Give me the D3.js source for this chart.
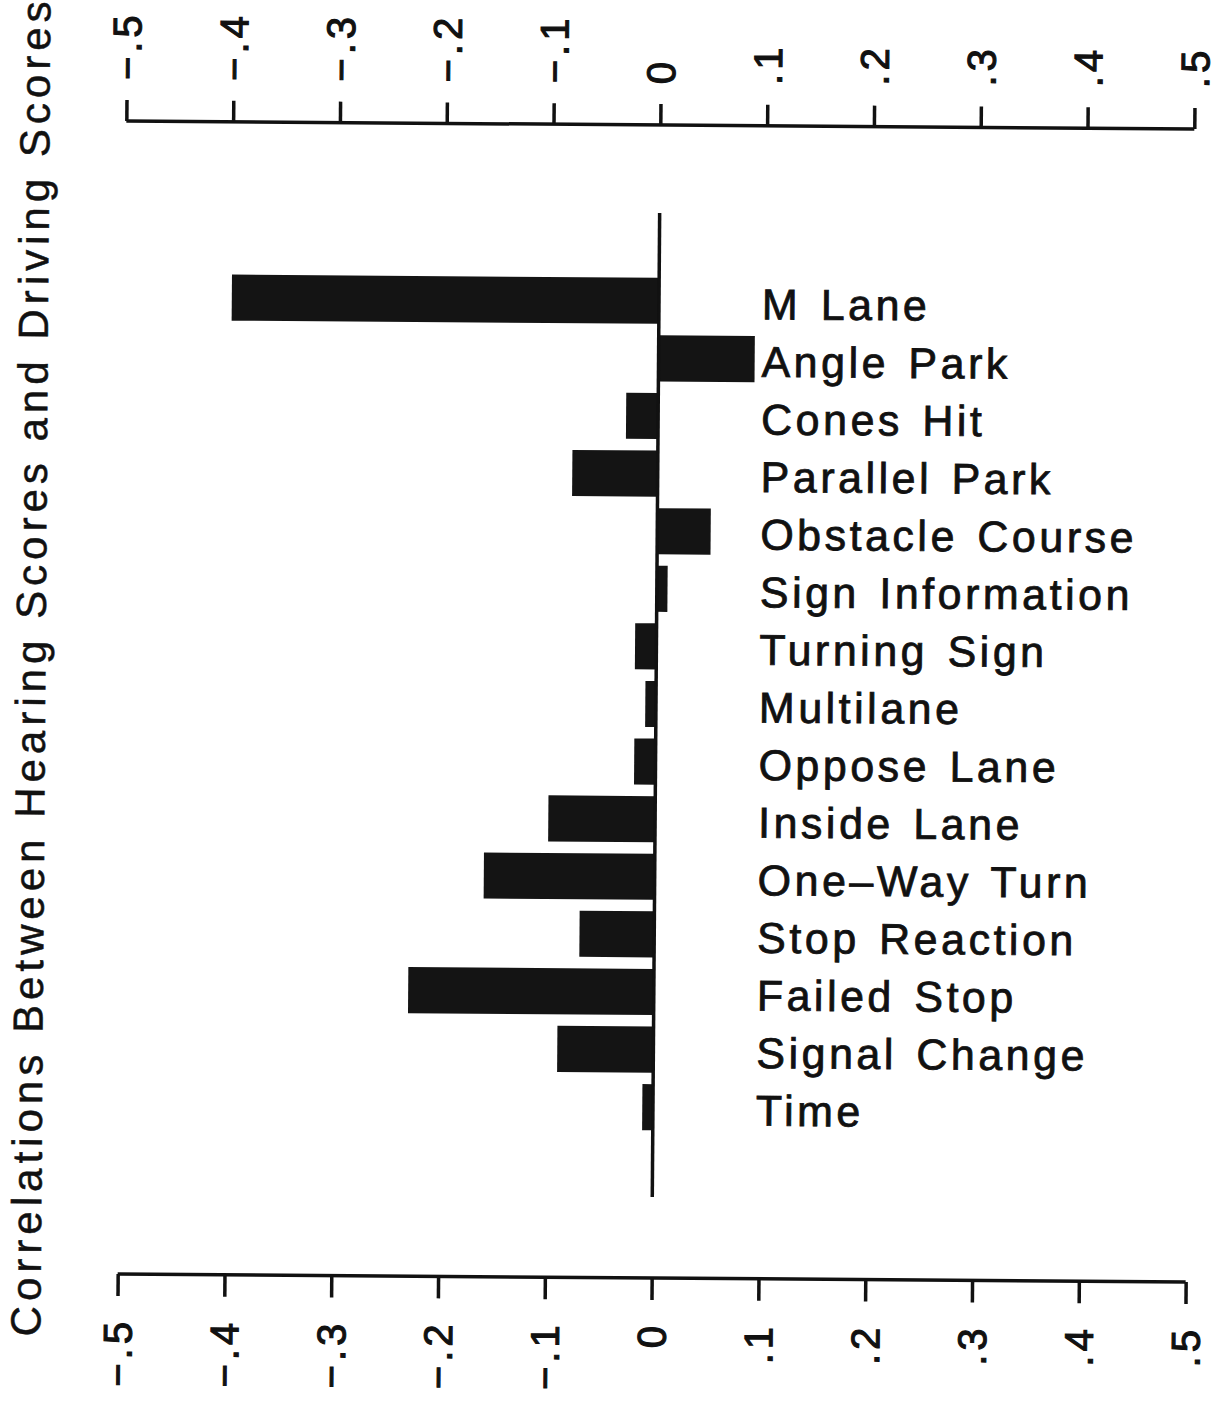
<!DOCTYPE html>
<html>
<head>
<meta charset="utf-8">
<script src="https://cdn.jsdelivr.net/npm/d3@7"></script>
<style>
  html, body { margin: 0; padding: 0; background: #fff; }
  svg { display: block; }
  text { font-family: "Liberation Sans", Arial, Helvetica, sans-serif; fill: #111; }
</style>
</head>
<body>
<svg id="chart" width="1226" height="1404"></svg>
<script>
// ---- data ----
const categories = ["M Lane", "Angle Park", "Cones Hit", "Parallel Park", "Obstacle Course",
  "Sign Information", "Turning Sign", "Multilane", "Oppose Lane", "Inside Lane",
  "One-Way Turn", "Stop Reaction", "Failed Stop", "Signal Change", "Time"];
const correlations = [-0.40, 0.09, -0.03, -0.08, 0.05, 0.01, -0.02, -0.01, -0.02, -0.10,
  -0.16, -0.07, -0.23, -0.09, -0.01];
const tickValues = [-0.5, -0.4, -0.3, -0.2, -0.1, 0, 0.1, 0.2, 0.3, 0.4, 0.5];
const tickLabels = ["\u2212.5", "\u2212.4", "\u2212.3", "\u2212.2", "\u2212.1", "0", ".1", ".2", ".3", ".4", ".5"];
const axisTitle = "Correlations Between Hearing Scores and Driving Scores";

// ---- layout ----
const svg = d3.select("#chart");
const g = svg.append("g").attr("transform", "rotate(0.43, 656, 700)");

const x = d3.scaleLinear().domain([-0.5, 0.5]).range([122, 1190]);
const y = d3.scaleBand().domain(categories).range([272, 1136]).paddingInner(0.2).paddingOuter(0.1);

const topY = 125, botY = 1278;
const ink = "#111";

// top axis
const topAxis = d3.axisTop(x).tickValues(tickValues).tickSize(21).tickFormat("");
const gt = g.append("g").attr("transform", `translate(0,${topY})`).call(topAxis);
gt.select(".domain").attr("d", `M${x(-0.5)},0H${x(0.5)}`).attr("stroke", ink).attr("stroke-width", 3.5);
gt.selectAll(".tick line").attr("stroke", ink).attr("stroke-width", 3.5);

// bottom axis
const botAxis = d3.axisBottom(x).tickValues(tickValues).tickSize(22).tickFormat("");
const gb = g.append("g").attr("transform", `translate(0,${botY})`).call(botAxis);
gb.select(".domain").attr("d", `M${x(-0.5)},0H${x(0.5)}`).attr("stroke", ink).attr("stroke-width", 3.5);
gb.selectAll(".tick line").attr("stroke", ink).attr("stroke-width", 3.5);

// rotated tick labels (read bottom to top)
const labStyle = sel => sel
  .style("font-size", "40px")
  .style("letter-spacing", "4px")
  .attr("stroke", ink).attr("stroke-width", 1.1)
  .attr("dy", "0.36em");

g.append("g").selectAll("text").data(tickValues).join("text")
  .attr("transform", d => `translate(${x(d)},84) rotate(-90)`)
  .attr("text-anchor", "start")
  .text((d, i) => tickLabels[i])
  .call(labStyle);

g.append("g").selectAll("text").data(tickValues).join("text")
  .attr("transform", d => `translate(${x(d)},1322) rotate(-90)`)
  .attr("text-anchor", "end")
  .text((d, i) => tickLabels[i])
  .call(labStyle);

// bars
g.append("g").selectAll("rect").data(categories).join("rect")
  .attr("x", (d, i) => Math.min(x(0), x(correlations[i])))
  .attr("y", d => y(d))
  .attr("width", (d, i) => Math.abs(x(correlations[i]) - x(0)))
  .attr("height", y.bandwidth())
  .attr("fill", "#141414");

// zero line
g.append("line")
  .attr("x1", x(0)).attr("x2", x(0))
  .attr("y1", 213).attr("y2", 1197)
  .attr("stroke", ink).attr("stroke-width", 3.5);

// category labels
g.append("g").selectAll("text").data(categories).join("text")
  .attr("x", 759)
  .attr("y", d => y(d) + y.bandwidth() / 2)
  .attr("dy", "0.41em")
  .style("font-size", "43px")
  .style("letter-spacing", "3.5px")
  .style("word-spacing", "4px")
  .attr("stroke", ink).attr("stroke-width", 0.8)
  .text(d => d.replace("-", "\u2013"));

// axis title
g.append("text")
  .attr("transform", "translate(30,1341) rotate(-90)")
  .attr("text-anchor", "start")
  .attr("dy", "0.36em")
  .attr("textLength", 1335)
  .attr("lengthAdjust", "spacing")
  .style("font-size", "42px")
  .attr("stroke", ink).attr("stroke-width", 0.5)
  .text(axisTitle);
</script>
</body>
</html>
